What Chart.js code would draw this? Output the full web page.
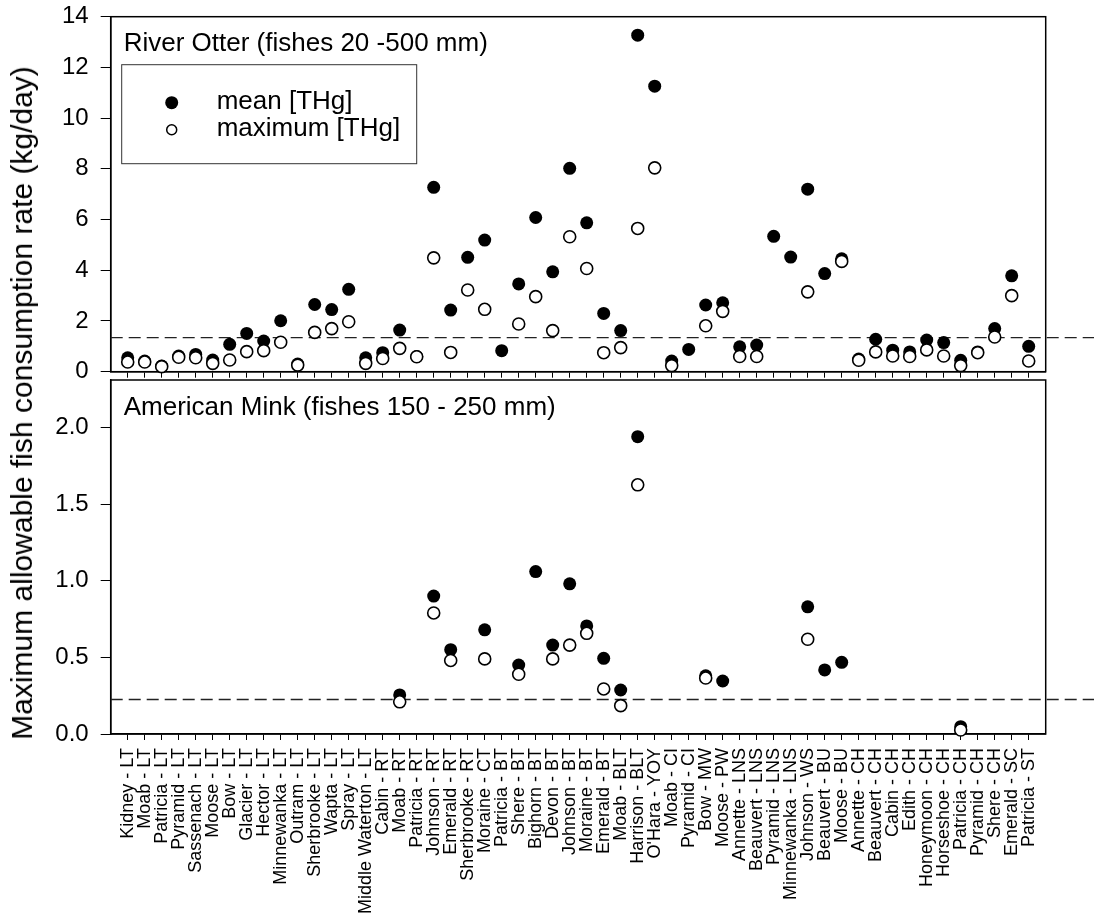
<!DOCTYPE html>
<html>
<head>
<meta charset="utf-8">
<script src="https://cdn.jsdelivr.net/npm/chart.js@4.4.0/dist/chart.umd.min.js"></script>
<style>
  body { margin: 0; background: #fff; width: 1094px; height: 923px; position: relative; overflow: hidden;
         font-family: 'Liberation Sans', Arial, Helvetica, sans-serif; }
  #otter { position: absolute; left: 0; top: 0; }
  #mink { position: absolute; left: 0; top: 372px; }
  #ytitle { position: absolute; left: 22px; top: 403px; transform: translate(-50%, -50%) rotate(-90deg);
            white-space: nowrap; font-size: 30px; color: #000; }
</style>
</head>
<body>
<canvas id="otter" width="1094" height="380"></canvas>
<canvas id="mink" width="1094" height="551"></canvas>
<div id="ytitle">Maximum allowable fish consumption rate (kg/day)</div>
<script>
var sites = [
	'Kidney - LT', 'Moab - LT', 'Patricia - LT', 'Pyramid - LT', 'Sassenach - LT', 'Moose - LT',
	'Bow - LT', 'Glacier - LT', 'Hector - LT', 'Minnewanka - LT', 'Outram - LT', 'Sherbrooke - LT',
	'Wapta - LT', 'Spray - LT', 'Middle Waterton - LT', 'Cabin - RT', 'Moab - RT', 'Patricia - RT',
	'Johnson - RT', 'Emerald - RT', 'Sherbrooke - RT', 'Moraine - CT', 'Patricia - BT', 'Shere - BT',
	'Bighorn - BT', 'Devon - BT', 'Johnson - BT', 'Moraine - BT', 'Emerald - BT', 'Moab - BLT',
	'Harrison - BLT', "O'Hara - YOY", 'Moab - CI', 'Pyramid - CI', 'Bow - MW', 'Moose - PW',
	'Annette - LNS', 'Beauvert - LNS', 'Pyramid - LNS', 'Minnewanka - LNS', 'Johnson - WS', 'Beauvert - BU',
	'Moose - BU', 'Annette - CH', 'Beauvert - CH', 'Cabin - CH', 'Edith - CH', 'Honeymoon - CH',
	'Horseshoe - CH', 'Patricia - CH', 'Pyramid - CH', 'Shere - CH', 'Emerald - SC', 'Patricia - ST'
];

// River Otter (fishes 20 - 500 mm), kg/day
var otterMean = [
	0.55, 0.42, 0.22, 0.62, 0.68, 0.46, 1.08, 1.51, 1.21, 2.01,
	0.30, 2.65, 2.45, 3.25, 0.55, 0.75, 1.64, 0.60, 7.27, 2.43,
	4.51, 5.19, 0.83, 3.46, 6.08, 3.94, 8.02, 5.87, 2.30, 1.62,
	13.27, 11.26, 0.42, 0.88, 2.63, 2.72, 0.98, 1.05, 5.34, 4.52,
	7.20, 3.87, 4.45, 0.50, 1.28, 0.85, 0.78, 1.25, 1.15, 0.45,
	0.78, 1.70, 3.78, 1.00
];
var otterMax = [
	0.38, 0.38, 0.20, 0.57, 0.55, 0.33, 0.46, 0.79, 0.83, 1.16,
	0.26, 1.55, 1.70, 1.97, 0.33, 0.52, 0.92, 0.59, 4.49, 0.76,
	3.22, 2.46, null, 1.88, 2.96, 1.62, 5.32, 4.07, 0.75, 0.95,
	5.65, 8.04, 0.24, null, 1.81, 2.38, 0.60, 0.60, null, null,
	3.15, null, 4.35, 0.45, 0.78, 0.62, 0.60, 0.86, 0.62, 0.24,
	0.75, 1.37, 3.00, 0.42
];

// American Mink (fishes 150 - 250 mm), kg/day
var minkMean = [
	null, null, null, null, null, null, null, null, null, null,
	null, null, null, null, null, null, 0.255, null, 0.90, 0.55,
	null, 0.68, null, 0.45, 1.06, 0.58, 0.98, 0.705, 0.494, 0.287,
	1.94, null, null, null, 0.38, 0.346, null, null, null, null,
	0.83, 0.418, 0.468, null, null, null, null, null, null, 0.048,
	null, null, null, null
];
var minkMax = [
	null, null, null, null, null, null, null, null, null, null,
	null, null, null, null, null, null, 0.21, null, 0.79, 0.48,
	null, 0.49, null, 0.39, null, 0.49, 0.58, 0.657, 0.294, 0.185,
	1.626, null, null, null, 0.365, null, null, null, null, null,
	0.618, null, null, null, null, null, null, null, null, 0.026,
	null, null, null, null
];

var otterLimit = 1.34;
var minkLimit = 0.225;
var otterTicks = [0, 2, 4, 6, 8, 10, 12, 14];
var minkTicks = [0, 0.5, 1.0, 1.5, 2.0];

Chart.defaults.font.family = "'Liberation Sans', Arial, Helvetica, sans-serif";
Chart.defaults.color = '#000';

function toPoints(values) {
	var points = [];
	values.forEach(function(v, i) {
		if (v !== null) {
			points.push({x: i, y: v});
		}
	});
	return points;
}

//Keep tick labels from pushing the plot area around
function clearScalePadding(scale) {
	scale.paddingTop = 0;
	scale.paddingBottom = 0;
	scale.paddingLeft = 0;
	scale.paddingRight = 0;
}

var panelPlugin = {
	id: 'panel',
	beforeDatasetsDraw: function(chart, args, opts) {
		var area = chart.chartArea, ctx = chart.ctx;
		var y = chart.scales.y.getPixelForValue(opts.limit);

		ctx.save();
		ctx.strokeStyle = '#000';
		ctx.lineWidth = 1.5;
		ctx.strokeRect(area.left, area.top, area.right - area.left, area.bottom - area.top);

		//Reference line runs past the right edge of the frame
		ctx.lineWidth = 1.3;
		ctx.strokeStyle = '#222';
		ctx.setLineDash([12, 6]);
		ctx.beginPath();
		ctx.moveTo(area.left, y);
		ctx.lineTo(chart.width, y);
		ctx.stroke();
		ctx.setLineDash([]);

		ctx.fillStyle = '#000';
		ctx.font = "26px 'Liberation Sans', Arial, sans-serif";
		ctx.textBaseline = 'alphabetic';
		ctx.fillText(opts.title, area.left + 13, area.top + opts.titleOffset);

		if (opts.legend) {
			var lx = area.left + 11, ly = area.top + 48;
			ctx.lineWidth = 1;
			ctx.strokeStyle = '#333';
			ctx.strokeRect(lx, ly, 295, 99);

			ctx.beginPath();
			ctx.arc(lx + 50, ly + 38, 6.5, 0, Math.PI * 2);
			ctx.fill();

			ctx.beginPath();
			ctx.arc(lx + 50, ly + 65, 5, 0, Math.PI * 2);
			ctx.fillStyle = '#fff';
			ctx.fill();
			ctx.lineWidth = 1.5;
			ctx.strokeStyle = '#000';
			ctx.stroke();

			ctx.fillStyle = '#000';
			ctx.fillText('mean [THg]', lx + 95, ly + 44);
			ctx.fillText('maximum [THg]', lx + 95, ly + 71);
		}
		ctx.restore();
	}
};

function makeChart(canvasId, meanValues, maxValues, opts) {
	return new Chart(document.getElementById(canvasId), {
		type: 'scatter',
		data: {
			datasets: [{
				label: 'maximum [THg]',
				data: toPoints(maxValues),
				pointRadius: 6,
				pointHoverRadius: 6,
				pointBackgroundColor: '#fff',
				pointBorderColor: '#000',
				pointBorderWidth: 1.6,
				clip: false
			}, {
				label: 'mean [THg]',
				data: toPoints(meanValues),
				pointRadius: 6.5,
				pointHoverRadius: 6.5,
				pointBackgroundColor: '#000',
				pointBorderColor: '#000',
				pointBorderWidth: 0,
				clip: false
			}]
		},
		options: {
			responsive: false,
			animation: false,
			events: [],
			layout: {
				padding: {left: 0, right: 48.3, top: opts.padTop, bottom: 0}
			},
			plugins: {
				legend: {display: false},
				tooltip: {enabled: false},
				panel: {
					limit: opts.limit,
					title: opts.title,
					titleOffset: opts.titleOffset,
					legend: opts.legend
				}
			},
			scales: {
				x: {
					type: 'linear',
					min: -1,
					max: 54,
					afterBuildTicks: function(scale) {
						scale.ticks = sites.map(function(s, i) {
							return {value: i};
						});
					},
					afterFit: function(scale) {
						scale.height = opts.xHeight;
						clearScalePadding(scale);
					},
					border: {display: true, color: '#000', width: 1.5},
					grid: {drawOnChartArea: false, color: '#000', lineWidth: 1, tickLength: 6},
					ticks: {
						display: opts.showLabels,
						autoSkip: false,
						minRotation: 90,
						maxRotation: 90,
						padding: 8,
						font: {size: 18},
						callback: function(value) {
							return sites[value];
						}
					}
				},
				y: {
					min: 0,
					max: opts.yMax,
					afterBuildTicks: function(scale) {
						scale.ticks = opts.yTicks.map(function(v) {
							return {value: v};
						});
					},
					afterFit: function(scale) {
						scale.width = 110.7;
						clearScalePadding(scale);
					},
					border: {display: true, color: '#000', width: 1.5},
					grid: {drawOnChartArea: false, color: '#000', lineWidth: 1, tickLength: 10},
					ticks: {
						padding: 12,
						font: {size: 24},
						callback: function(value) {
							return opts.yDecimals ? value.toFixed(opts.yDecimals) : String(value);
						}
					}
				}
			}
		},
		plugins: [panelPlugin]
	});
}

makeChart('otter', otterMean, otterMax, {
	padTop: 16.7,
	xHeight: 8.3,
	showLabels: false,
	yMax: 14,
	yTicks: otterTicks,
	yDecimals: 0,
	limit: otterLimit,
	title: 'River Otter (fishes 20 -500 mm)',
	titleOffset: 34,
	legend: true
});

makeChart('mink', minkMean, minkMax, {
	padTop: 8,
	xHeight: 189,
	showLabels: true,
	yMax: 2.31,
	yTicks: minkTicks,
	yDecimals: 1,
	limit: minkLimit,
	title: 'American Mink (fishes 150 - 250 mm)',
	titleOffset: 35,
	legend: false
});
</script>
</body>
</html>
